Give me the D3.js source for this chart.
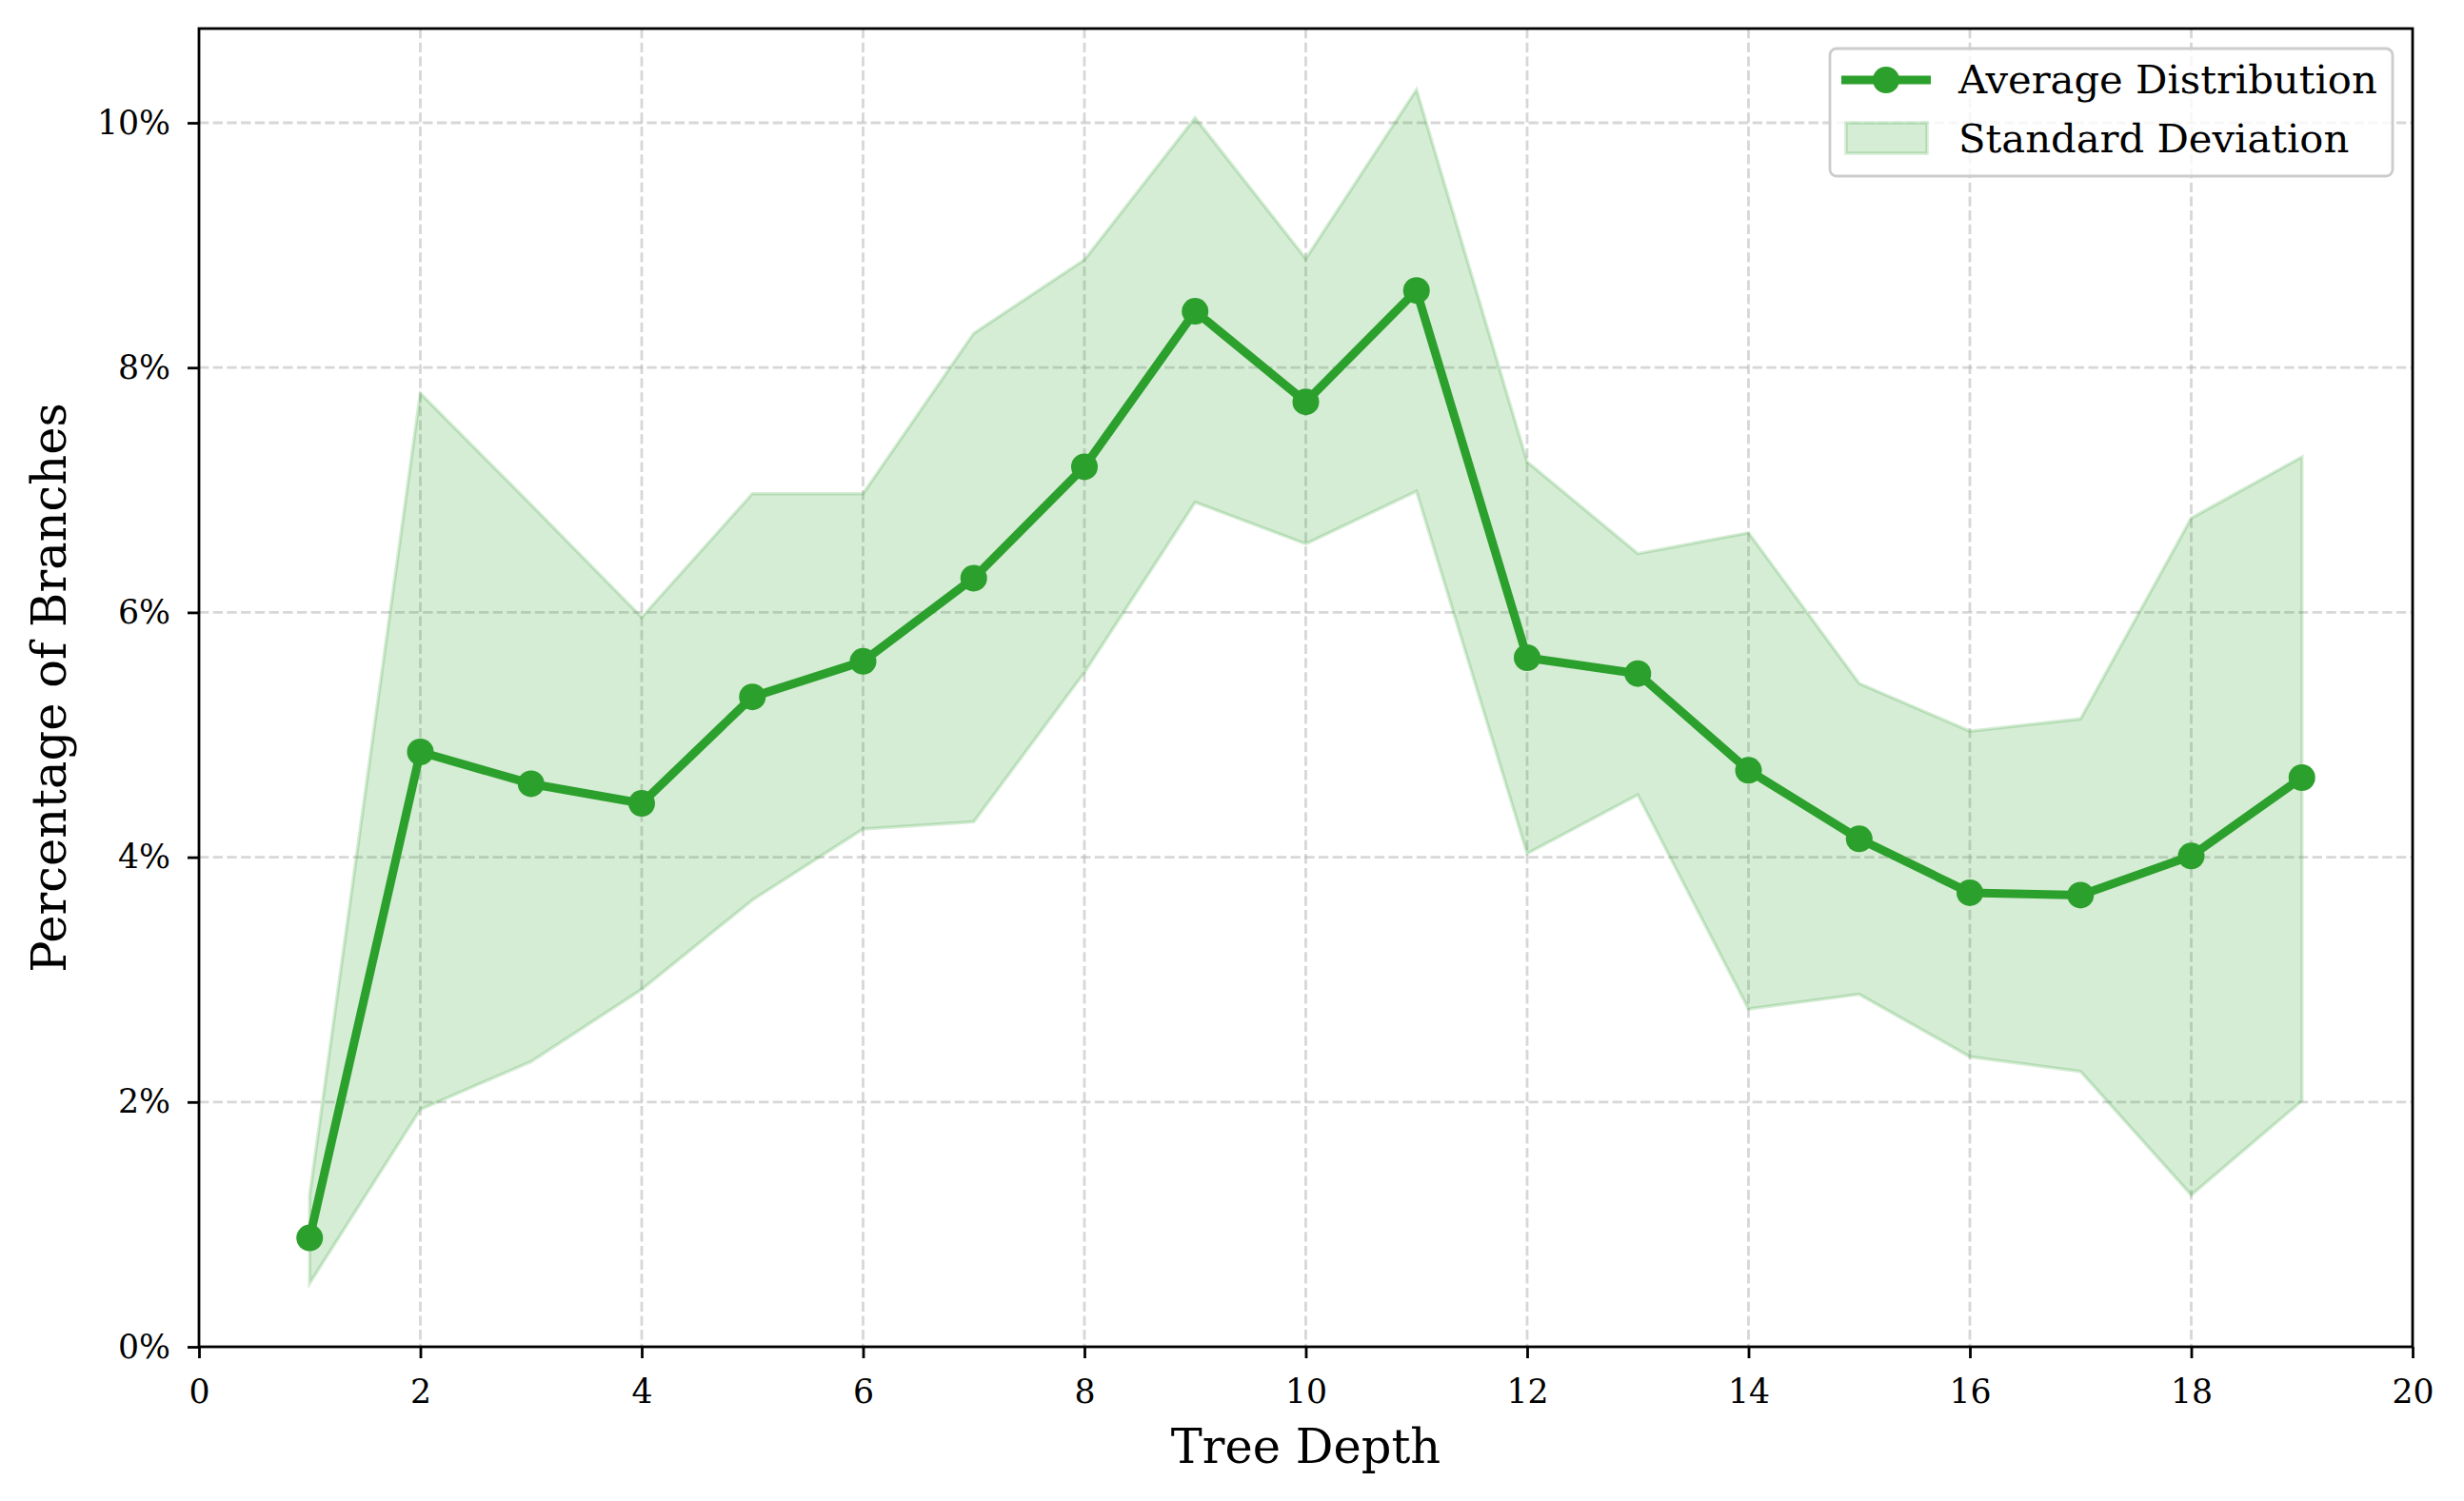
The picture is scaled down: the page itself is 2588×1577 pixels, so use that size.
<!DOCTYPE html>
<html><head><meta charset="utf-8">
<script src="https://cdn.jsdelivr.net/npm/d3@7"></script>
<style>body{margin:0;background:#fff}svg{display:block}</style>
</head><body>
<script>
const depths = [1,2,3,4,5,6,7,8,9,10,11,12,13,14,15,16,17,18,19];
const avgValues = [0.89,4.86,4.60,4.44,5.31,5.60,6.28,7.19,8.46,7.72,8.63,5.63,5.50,4.71,4.15,3.71,3.69,4.01,4.65];
const upperValues = [1.24,7.79,6.88,5.96,6.97,6.97,8.28,8.88,10.04,8.89,10.27,7.23,6.48,6.65,5.42,5.03,5.13,6.77,7.27];
const lowerValues = [0.52,1.94,2.33,2.92,3.65,4.23,4.29,5.51,6.90,6.56,6.99,4.03,4.51,2.76,2.88,2.37,2.25,1.24,2.01];
const xTicks = [0,2,4,6,8,10,12,14,16,18,20];
const yTicks = [0,2,4,6,8,10];
const xLabel = "Tree Depth";
const yLabel = "Percentage of Branches";
const legendLabels = ["Average Distribution","Standard Deviation"];

const W = 2588, H = 1577;
const m = {left:209, right:2534, top:30, bottom:1415};
const green = "#2ca02c";
const font = "'DejaVu Serif', serif";

const svg = d3.select("body").append("svg").attr("width",W).attr("height",H);
const x = d3.scaleLinear().domain([0,20]).range([m.left,m.right]);
const y = d3.scaleLinear().domain([0,10.77]).range([m.bottom,m.top]);

// grid
const grid = svg.append("g");
grid.selectAll(".gx").data(xTicks.filter(d=>d>0&&d<20)).join("line")
  .attr("x1",d=>x(d)).attr("x2",d=>x(d)).attr("y1",m.top).attr("y2",m.bottom)
  .attr("stroke","#b0b0b0").attr("stroke-opacity",0.5).attr("stroke-width",2.8).attr("stroke-dasharray","10.3,4.4");
grid.selectAll(".gy").data(yTicks.filter(d=>d>0)).join("line")
  .attr("y1",d=>y(d)).attr("y2",d=>y(d)).attr("x1",m.left).attr("x2",m.right)
  .attr("stroke","#b0b0b0").attr("stroke-opacity",0.5).attr("stroke-width",2.8).attr("stroke-dasharray","10.3,4.4");

// band
const area = d3.area().x((d,i)=>x(depths[i])).y0((d,i)=>y(lowerValues[i])).y1((d,i)=>y(upperValues[i]));
svg.append("path").datum(depths).attr("d",area)
  .attr("fill",green).attr("fill-opacity",0.2)
  .attr("stroke",green).attr("stroke-opacity",0.2).attr("stroke-width",3.5);

// line
const line = d3.line().x((d,i)=>x(depths[i])).y((d,i)=>y(avgValues[i]));
svg.append("path").datum(depths).attr("d",line).attr("fill","none")
  .attr("stroke",green).attr("stroke-width",9).attr("stroke-linejoin","round");
svg.selectAll(".pt").data(depths).join("circle")
  .attr("cx",(d,i)=>x(d)).attr("cy",(d,i)=>y(avgValues[i])).attr("r",14).attr("fill",green);

// axes
const xAxis = d3.axisBottom(x).tickValues(xTicks).tickFormat(d3.format("d")).tickSize(12).tickPadding(22);
const gx = svg.append("g").attr("transform",`translate(0,${m.bottom})`).call(xAxis);
const yAxis = d3.axisLeft(y).tickValues(yTicks).tickFormat(d=>d+"%").tickSize(12).tickPadding(18);
const gy = svg.append("g").attr("transform",`translate(${m.left},0)`).call(yAxis);
[gx,gy].forEach(g=>{
  g.select(".domain").remove();
  g.selectAll(".tick line").attr("stroke","#000").attr("stroke-width",2.8);
  g.selectAll(".tick text").attr("fill","#000").style("font-family",font).style("font-size","34.7px");
});
// spines
svg.append("rect").attr("x",m.left).attr("y",m.top).attr("width",m.right-m.left).attr("height",m.bottom-m.top)
  .attr("fill","none").attr("stroke","#000").attr("stroke-width",2.8);

// labels
svg.append("text").attr("x",(m.left+m.right)/2).attr("y",1537).attr("text-anchor","middle")
  .style("font-family",font).style("font-size","49.5px").text(xLabel);
svg.append("text").attr("transform",`translate(69,${(m.top+m.bottom)/2}) rotate(-90)`).attr("text-anchor","middle")
  .style("font-family",font).style("font-size","49.5px").text(yLabel);

// legend
const lg = svg.append("g");
lg.append("rect").attr("x",1922).attr("y",51).attr("width",591).attr("height",134).attr("rx",7)
  .attr("fill","#fff").attr("fill-opacity",0.8).attr("stroke","#cccccc").attr("stroke-width",2.8);
lg.append("line").attr("x1",1934).attr("x2",2028).attr("y1",84).attr("y2",84).attr("stroke",green).attr("stroke-width",9);
lg.append("circle").attr("cx",1981).attr("cy",84).attr("r",14).attr("fill",green);
lg.append("rect").attr("x",1939).attr("y",129).attr("width",85).attr("height",32)
  .attr("fill",green).attr("fill-opacity",0.2).attr("stroke",green).attr("stroke-opacity",0.2).attr("stroke-width",3.5);
lg.append("text").attr("x",2057).attr("y",98).style("font-family",font).style("font-size","41.7px").text(legendLabels[0]);
lg.append("text").attr("x",2057).attr("y",160).style("font-family",font).style("font-size","41.7px").text(legendLabels[1]);
</script>
</body></html>
